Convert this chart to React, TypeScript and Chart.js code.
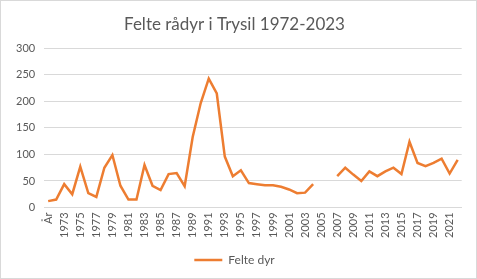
import React, { useEffect, useRef } from "react";
import { Chart, registerables } from "chart.js";

Chart.register(...registerables);

const categories: string[] = ["År", ...Array.from({ length: 51 }, (_, i) => String(1972 + i))];

const felteDyr: (number | null)[] = [
  12, 15, 44, 25, 77, 27, 20, 75, 99, 41,
  15, 15, 80, 41, 33, 63, 65, 40, 133, 197,
  243, 215, 96, 59, 70, 46, 44, 42, 42, 39,
  34, 27, 28, 44, null, null, 59, 75, 62, 50,
  68, 59, 68, 75, 63, 124, 84, 78, 84, 92,
  64, 90,
];

const yTicks = [0, 50, 100, 150, 200, 250, 300];

const FONT = "Lato, 'Open Sans', sans-serif";
const GREY = "#595959";

export default function App() {
  const ref = useRef<HTMLCanvasElement | null>(null);
  useEffect(() => {
    document.body.style.margin = "0";
    if (!ref.current) return;
    const chart = new Chart(ref.current, {
      type: "line",
      data: {
        labels: categories,
        datasets: [
          {
            label: "Felte dyr",
            data: felteDyr,
            borderColor: "#ED7D31",
            backgroundColor: "#ED7D31",
            borderWidth: 2.5,
            pointRadius: 0,
            tension: 0,
            spanGaps: false,
          },
        ],
      },
      options: {
        animation: false,
        responsive: false,
        maintainAspectRatio: false,
        layout: { padding: { left: 6, right: 14, top: 9, bottom: 2 } },
        plugins: {
          title: {
            display: true,
            text: "Felte rådyr i Trysil 1972-2023",
            color: GREY,
            font: { family: FONT, size: 17, weight: "normal" },
            padding: { top: 4, bottom: 14 },
          },
          legend: {
            position: "bottom",
            labels: {
              usePointStyle: true,
              pointStyle: "line",
              pointStyleWidth: 28,
              color: GREY,
              font: { family: FONT, size: 12 },
              padding: 11,
            },
          },
          tooltip: { enabled: false },
        },
        scales: {
          x: {
            offset: true,
            grid: { display: false, drawTicks: false },
            border: { display: true, color: "#d9d9d9" },
            ticks: {
              autoSkip: false,
              minRotation: 90,
              maxRotation: 90,
              padding: 5,
              color: GREY,
              font: { family: FONT, size: 11 },
              callback: (_v: any, i: number) => (i % 2 === 0 ? categories[i] : ""),
            },
          },
          y: {
            min: 0,
            max: 300,
            afterBuildTicks: (axis: any) => {
              axis.ticks = yTicks.map((v) => ({ value: v }));
            },
            grid: { color: "#d9d9d9", drawTicks: false },
            border: { display: false },
            ticks: {
              padding: 9,
              color: GREY,
              font: { family: FONT, size: 11 },
            },
          },
        },
      },
    });
    return () => chart.destroy();
  }, []);
  return (
    <div
      style={{
        position: "relative",
        width: 477,
        height: 279,
        boxSizing: "border-box",
        border: "1px solid #d9d9d9",
        background: "#fff",
      }}
    >
      <canvas ref={ref} width={475} height={277} style={{ display: "block" }} />
    </div>
  );
}
